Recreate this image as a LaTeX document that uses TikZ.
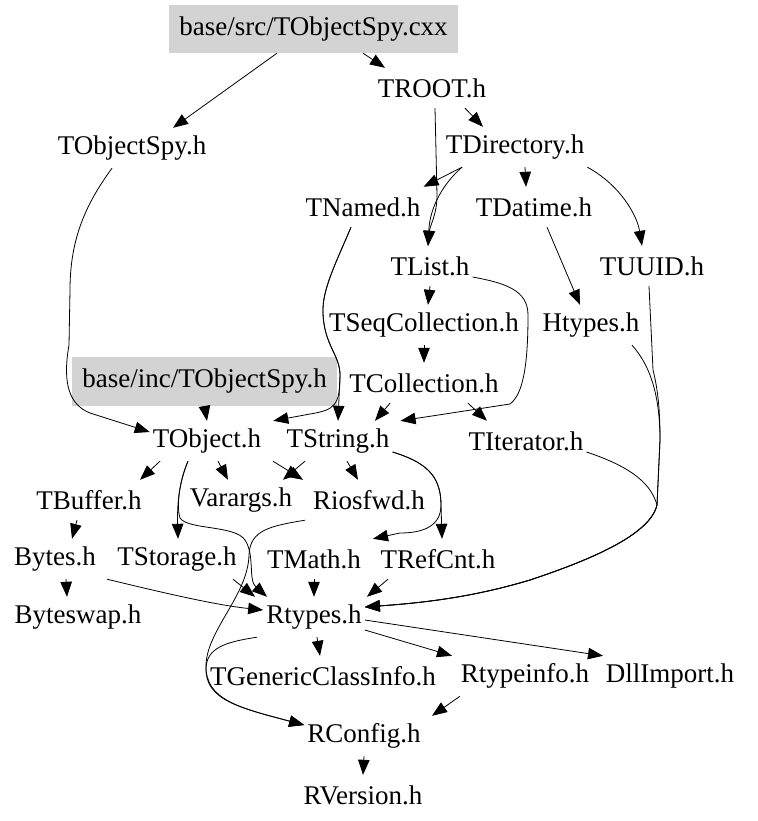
\documentclass[tikz,border=0pt]{standalone}
\usepackage{fontspec}
\setmainfont{Liberation Serif}
\usetikzlibrary{arrows.meta}
\definecolor{boxgray}{RGB}{211,211,211}

\begin{document}
\begin{tikzpicture}[x=1pt,y=-1pt,
  hdr/.style={font=\fontsize{27}{30}\selectfont,inner sep=3pt,minimum height=40pt},
  filebox/.style={hdr,fill=boxgray},
  dep/.style={-{Triangle[length=15pt,width=11.5pt]},line width=0.8pt}]
\useasboundingbox (0,0) rectangle (757,821);

\node[filebox,minimum width=289pt,minimum height=48pt] (srcfile) at (313.5,29) {base/src/TObjectSpy.cxx};
\node[hdr] (TROOT) at (432,88) {TROOT.h};
\node[hdr] (TObjectSpy) at (132,148) {TObjectSpy.h};
\node[hdr] (TDirectory) at (515,147) {TDirectory.h};
\node[hdr] (TNamed) at (363,207) {TNamed.h};
\node[hdr] (TDatime) at (534,207) {TDatime.h};
\node[hdr] (TList) at (430,266) {TList.h};
\node[hdr] (TUUID) at (652,266) {TUUID.h};
\node[hdr] (TSeqCollection) at (424,325) {TSeqCollection.h};
\node[hdr] (Htypes) at (591,325) {Htypes.h};
\node[filebox,minimum width=265pt,minimum height=49pt] (incfile) at (204.5,381.5) {base/inc/TObjectSpy.h};
\node[hdr] (TCollection) at (424,383) {TCollection.h};
\node[hdr] (TObject) at (207,441) {TObject.h};
\node[hdr] (TString) at (338,441) {TString.h};
\node[hdr] (TIterator) at (526,441) {TIterator.h};
\node[hdr] (TBuffer) at (89,500) {TBuffer.h};
\node[hdr] (Varargs) at (241,500) {Varargs.h};
\node[hdr] (Riosfwd) at (369,500) {Riosfwd.h};
\node[hdr] (Bytes) at (55,559) {Bytes.h};
\node[hdr] (TStorage) at (177,559) {TStorage.h};
\node[hdr] (TMath) at (314,559) {TMath.h};
\node[hdr] (TRefCnt) at (438,559) {TRefCnt.h};
\node[hdr] (Byteswap) at (78,617) {Byteswap.h};
\node[hdr] (Rtypes) at (314,617) {Rtypes.h};
\node[hdr] (TGenericClassInfo) at (323,676) {TGenericClassInfo.h};
\node[hdr] (Rtypeinfo) at (525,676) {Rtypeinfo.h};
\node[hdr] (DllImport) at (670,676) {DllImport.h};
\node[hdr] (RConfig) at (364,736) {RConfig.h};
\node[hdr] (RVersion) at (363,795) {RVersion.h};

\path ([xshift=-36.5pt]srcfile.south) edge[dep] ([xshift=41pt]TObjectSpy.north);
\path ([xshift=49.5pt]srcfile.south) edge[dep] ([xshift=-47pt]TROOT.north);
\path ([xshift=33pt]TROOT.south) edge[dep] ([xshift=-32pt]TDirectory.north);
\draw[dep] ([xshift=3pt]TROOT.south) -- (437,195) .. controls (437,215) and (430,225) .. ([xshift=-2pt]TList.north);
\draw[dep] ([xshift=-53pt]TDirectory.south) .. controls (445,182) and (430,205) .. ([xshift=-2pt]TList.north);
\path ([xshift=-53pt]TDirectory.south) edge[dep] (TNamed.north east);
\path ([xshift=10pt]TDirectory.south) edge[dep] ([xshift=-8pt]TDatime.north);
\draw[dep] (TDirectory.south east) .. controls (620,185) and (637,215) .. ([xshift=-10pt]TUUID.north);
\path ([xshift=13pt]TDatime.south) edge[dep] ([xshift=-11pt]Htypes.north);
\draw[dep] ([xshift=-12pt]TNamed.south) .. controls (335,265) and (322,290) .. (323,313) .. controls (324,345) and (340,355) .. (340,375) -- (TString.north);
\draw[dep] ([xshift=-12pt]TNamed.south) .. controls (335,265) and (322,290) .. (323,313) .. controls (324,345) and (340,355) .. (340,375) .. controls (340,405) and (335,410) .. (310,414) -- ([xshift=9pt]TObject.north east);
\path ([xshift=0pt]TList.south) edge[dep] ([xshift=4pt]TSeqCollection.north);
\path (TSeqCollection.south) edge[dep] (TCollection.north);
\path ([xshift=-34pt]TCollection.south) edge[dep] ([xshift=37pt]TString.north);
\path ([xshift=44pt]TCollection.south) edge[dep] ([xshift=-39pt]TIterator.north);
\draw[dep] ([yshift=-11pt]TList.east) .. controls (505,283) and (528,290) .. (528,315) .. controls (528,370) and (522,395) .. (510,404) -- ([xshift=8pt]TString.north east);
\path (incfile.south) edge[dep] (TObject.north);
\draw[dep] ([xshift=-20pt]TObjectSpy.south) .. controls (85,205) and (70,240) .. (70,290) -- (69,345) .. controls (62,385) and (70,405) .. (90,413) -- ([yshift=9pt]TObject.west);
\path ([xshift=-47pt]TObject.south) edge[dep] ([xshift=51pt]TBuffer.north);
\path ([xshift=11pt]TObject.south) edge[dep] ([xshift=-13pt]Varargs.north);
\path ([xshift=66pt]TObject.south) edge[dep] ([xshift=-66pt]Riosfwd.north);
\path ([xshift=-33pt]TString.south) edge[dep] ([xshift=42pt]Varargs.north);
\path ([xshift=9pt]TString.south) edge[dep] ([xshift=-11pt]Riosfwd.north);
\draw[dep] ([xshift=-19pt]TObject.south) .. controls (180,480) and (177,500) .. ([xshift=1pt]TStorage.north);
\draw[dep] ([xshift=-19pt]TObject.south) .. controls (180,480) and (176,505) .. (180,518) .. controls (188,530) and (235,525) .. (245,540) .. controls (255,555) and (248,580) .. ([xshift=-47pt]Rtypes.north);
\path ([xshift=56pt]TStorage.south) edge[dep] ([xshift=-59pt]Rtypes.north);
\path ([xshift=-12pt]TBuffer.south) edge[dep] ([xshift=17pt]Bytes.north);
\path ([xshift=11pt]Bytes.south) edge[dep] ([xshift=-11pt]Byteswap.north);
\draw[dep] ([xshift=52pt]Bytes.south) .. controls (160,592) and (215,605) .. ([yshift=7pt]Rtypes.west);
\path (TMath.south) edge[dep] (Rtypes.north);
\path ([xshift=-50pt]TRefCnt.south) edge[dep] ([xshift=53pt]Rtypes.north);
\draw[dep] ([yshift=-11pt]TString.east) .. controls (425,462) and (441,475) .. (441,505) -- ([xshift=4pt]TRefCnt.north);
\draw[dep] ([yshift=-11pt]TString.east) .. controls (425,462) and (441,475) .. (441,505) .. controls (441,525) and (425,533) .. (400,533) -- ([xshift=59pt]TMath.north);
\draw[dep] ([xshift=-64pt]Riosfwd.south) .. controls (270,526) and (250,530) .. (249,555) .. controls (248,595) and (207,630) .. (206,665) .. controls (205,700) and (240,708) .. ([yshift=11pt]RConfig.west);
\draw[dep] ([xshift=-57pt]Rtypes.south) .. controls (225,642) and (207,648) .. (206,668) .. controls (205,700) and (240,708) .. ([yshift=11pt]RConfig.west);
\path ([xshift=3pt]Rtypes.south) edge[dep] ([xshift=-3pt]TGenericClassInfo.north);
\path ([yshift=-13pt]Rtypes.east) edge[dep] ([xshift=-73pt]Rtypeinfo.north);
\path ([yshift=-3pt]Rtypes.east) edge[dep] ([xshift=-67pt]DllImport.north);
\path ([xshift=-65pt]Rtypeinfo.south) edge[dep] ([xshift=68pt]RConfig.north);
\path (RConfig.south) edge[dep] (RVersion.north);
\draw[dep] ([xshift=41pt]Htypes.south) .. controls (650,365) and (660,395) .. (660,440) -- (657,505) .. controls (650,535) and (590,560) .. (530,580) .. controls (470,598) and (420,603) .. ([yshift=10pt]Rtypes.east);
\draw[dep] ([xshift=-3pt]TUUID.south) -- (653,370) .. controls (658,390) and (660,410) .. (660,440) -- (657,505) .. controls (650,535) and (590,560) .. (530,580) .. controls (470,598) and (420,603) .. ([yshift=10pt]Rtypes.east);
\draw[dep] ([yshift=-11pt]TIterator.east) .. controls (625,465) and (650,480) .. (657,505) .. controls (650,535) and (590,560) .. (530,580) .. controls (470,598) and (420,603) .. ([yshift=10pt]Rtypes.east);
\end{tikzpicture}
\end{document}
